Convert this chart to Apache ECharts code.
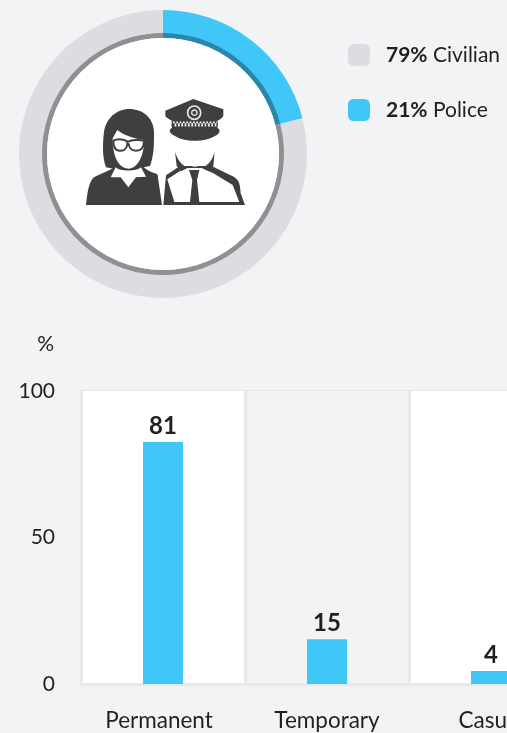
<!DOCTYPE html>
<html>
<head>
<meta charset="utf-8">
<style>
html, body { margin: 0; padding: 0; background: #f1f3f5; }
#chart { width: 507px; height: 733px; }
</style>
<script src="https://cdn.jsdelivr.net/npm/echarts@6/dist/echarts.min.js"></script>
</head>
<body>
<div id="chart"></div>
<script>
var categories = ['Permanent', 'Temporary', 'Casual']
// bar tops as measured on the picture, the labels are what it prints above them
var barValues = [82.6, 15.3, 4.4]
var barLabels = [81, 15, 4]
var yTicks = [0, 50, 100]
var shareNames = ['Police', 'Civilian']
var shareValues = [21, 79]

var FONT = 'Lato'
var TEXT = '#231f20'
var BLUE = '#40c7f8'
var GREY = '#dcdde0'
var BG = '#f1f3f5'
var LINE = '#e6e8ea'
var ICON = '#3f3f3f'

var icon = [
    // woman
    { d: 'M78,232 C66,200 68,160 72,125 C78,85 110,57 147,57 C190,57 222,85 222,130 C222,165 222,195 210,228 L190,232 L100,236 Z', fill: ICON },
    { d: 'M18,345 C22,310 25,280 40,263 C60,250 85,245 105,230 L190,230 C205,245 225,250 262,262 L275,345 Z', fill: ICON },
    { d: 'M98,145 L112,120 C130,135 160,145 192,150 C194,185 178,235 145,236 C112,235 97,190 98,145 Z', fill: '#fff' },
    { d: 'M107,232 L92,262 L122,262 L145,292 L168,262 L198,260 L183,232 C170,245 120,245 107,232 Z', fill: '#fff' },
    { d: 'M100,152 C112,146 130,148 142,154 L142,164 C140,178 128,183 118,182 C106,181 100,170 100,152 Z M142,156 C152,150 175,148 192,152 C192,170 184,182 168,182 C154,182 146,172 146,160', stroke: ICON, lineWidth: 6, fill: 'none' },
    // officer
    { d: 'M232,250 L300,218 L395,218 L452,252 C476,262 482,275 484,310 L497,345 L246,345 Z', fill: '#fff' },
    { d: 'M250,345 L258,256 L300,228 L395,228 L450,255 C475,265 480,275 482,310 L495,345 Z', fill: ICON },
    { d: 'M283,336 L262,268 L300,243 L322,234 L365,234 L400,250 L458,285 L478,336 Z', fill: '#fff' },
    { d: 'M327,240 L358,240 L351,270 L358,336 L330,336 L337,270 Z', fill: ICON },
    { d: 'M274,130 C283,185 298,226 345,230 C392,226 407,185 414,130 Z', fill: '#fff' },
    { d: 'M285,185 C292,208 304,224 322,233 L304,244 L290,228 Z M404,185 C398,208 386,224 368,233 L386,244 L400,228 Z', fill: ICON },
    { d: 'M256,62 L340,27 L430,58 L430,78 C425,86 418,90 412,92 C414,100 414,108 412,114 C422,118 420,128 412,134 C385,150 365,152 345,152 C320,152 300,148 278,134 C268,128 266,118 276,114 C274,108 274,100 276,92 C268,88 260,84 256,78 Z', fill: ICON },
    { d: 'M279,97 H411', stroke: '#fff', lineWidth: 5, lineDash: [5, 5], fill: 'none' },
    { d: 'M279,102 H411', stroke: '#fff', lineWidth: 5, lineDash: [5, 5], lineDashOffset: 5, fill: 'none' },
    { d: 'M279,107 H411', stroke: '#fff', lineWidth: 5, lineDash: [5, 5], fill: 'none' },
    { d: 'M343,48 C354,48 362,57 362,68 C362,79 354,88 343,88 C332,88 323,79 323,68 C323,57 332,48 343,48 Z', stroke: '#e8e8e8', lineWidth: 5, fill: 'none' },
    { d: 'M343,60 C347,60 351,64 351,68 C351,72 347,76 343,76 C339,76 335,72 335,68 C335,64 339,60 343,60 Z', stroke: '#e8e8e8', lineWidth: 4, fill: 'none' }
]

var pieData = shareNames.map(function (n, i) {
    return { name: n, value: shareValues[i] }
})

var myChart = echarts.init(document.getElementById('chart'))
myChart.setOption({
    animation: false,
    backgroundColor: BG,
    textStyle: { fontFamily: FONT },
    legend: {
        left: 348,
        top: 44,
        padding: 0,
        orient: 'vertical',
        data: ['Civilian', 'Police'],
        icon: 'roundRect',
        itemWidth: 22,
        itemHeight: 22,
        itemGap: 33,
        selectedMode: false,
        formatter: function (name) {
            return '{b|' + shareValues[shareNames.indexOf(name)] + '%} ' + name
        },
        textStyle: {
            color: TEXT,
            fontFamily: FONT,
            fontSize: 21,
            padding: [0, 0, 0, 11],
            rich: {
                b: { fontFamily: FONT, fontSize: 21, fontWeight: 'bold', color: TEXT }
            }
        }
    },
    grid: { left: 81, top: 391, bottom: 49, width: 492, outerBoundsMode: 'none' },
    xAxis: {
        type: 'category',
        data: categories.map(function (c, i) {
            // first label sits a little left of its bar
            return i === 0 ? { value: c, textStyle: { padding: [0, 8, 0, 0] } } : c
        }),
        axisLine: { lineStyle: { color: LINE, width: 3 } },
        axisTick: { show: false },
        axisLabel: { color: TEXT, fontFamily: FONT, fontSize: 22.5, margin: 25, interval: 0 },
        splitLine: { show: true, interval: 0, lineStyle: { color: LINE, width: 3 } },
        splitArea: { show: true, interval: 0, areaStyle: { color: ['#fff', BG] } }
    },
    yAxis: {
        type: 'value',
        min: yTicks[0],
        max: yTicks[2],
        interval: yTicks[1],
        name: '%',
        nameLocation: 'end',
        nameGap: 36,
        nameTextStyle: { color: TEXT, fontFamily: FONT, fontSize: 21, align: 'right', padding: [0, 27, 0, 0] },
        axisLine: { show: true, lineStyle: { color: LINE, width: 3 } },
        axisTick: { show: false },
        axisLabel: { color: TEXT, fontFamily: FONT, fontSize: 21, margin: 26, padding: [2, 0, 0, 0] },
        splitLine: { show: true, lineStyle: { color: LINE, width: 2 } }
    },
    series: [{
        type: 'bar',
        barWidth: 40,
        z: 3,
        itemStyle: { color: BLUE },
        label: {
            show: true,
            position: 'top',
            distance: 4,
            color: TEXT,
            fontFamily: FONT,
            fontSize: 24,
            fontWeight: 'bold',
            formatter: function (p) { return barLabels[p.dataIndex] }
        },
        data: barValues
    }, {
        // wide outer band
        type: 'pie',
        center: [163, 154],
        radius: [120, 144],
        startAngle: 90,
        silent: true,
        label: { show: false },
        labelLine: { show: false },
        color: [BLUE, GREY],
        data: pieData
    }, {
        // thin darker ring, white disc inside it
        type: 'pie',
        center: [163, 154],
        radius: [116, 121],
        startAngle: 90,
        silent: true,
        z: 3,
        legendHoverLink: false,
        label: { show: false },
        labelLine: { show: false },
        color: ['#2a86ab', '#8f8f94'],
        data: pieData.map(function (d) { return { name: d.name + ' ring', value: d.value } })
    }, {
        type: 'pie',
        center: [163, 154],
        radius: [0, 116],
        silent: true,
        z: 3,
        label: { show: false },
        labelLine: { show: false },
        itemStyle: { color: '#fff' },
        data: [{ name: 'disc', value: 1 }]
    }, {
        type: 'custom',
        coordinateSystem: 'none',
        silent: true,
        z: 5,
        data: [0],
        renderItem: function () {
            return {
                type: 'group',
                x: 80,
                y: 90,
                scaleX: 1 / 3,
                scaleY: 1 / 3,
                children: icon.map(function (p) {
                    return {
                        type: 'path',
                        shape: { pathData: p.d },
                        style: {
                            fill: p.fill,
                            stroke: p.stroke,
                            lineWidth: p.lineWidth,
                            lineDash: p.lineDash,
                            lineDashOffset: p.lineDashOffset
                        }
                    }
                })
            }
        }
    }]
})
</script>
</body>
</html>
